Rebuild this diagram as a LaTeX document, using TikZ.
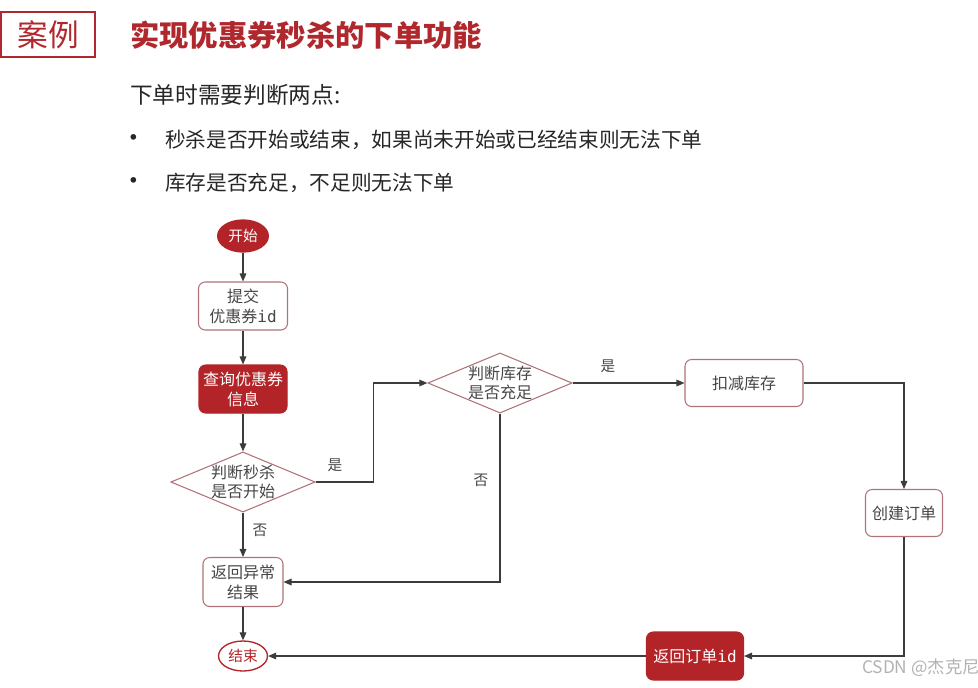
\documentclass[tikz,border=0pt]{standalone}
\usepackage{fontspec}
\setmainfont{Noto Sans CJK SC}
\setmonofont{DejaVu Sans Mono}
\usetikzlibrary{shapes.geometric,arrows.meta}
\definecolor{cred}{RGB}{178,36,40}
\definecolor{tred}{RGB}{176,40,45}
\definecolor{bord}{RGB}{175,115,120}
\definecolor{txt}{RGB}{70,70,70}
\definecolor{ln}{RGB}{60,60,60}
\begin{document}
\begin{tikzpicture}[x=0.75pt,y=-0.75pt,
 box/.style={draw=bord, line width=0.8pt, rounded corners=5pt, fill=white, text=txt,
   font=\fontsize{12}{15}\selectfont, align=center, inner sep=0pt},
 redbox/.style={box, fill=cred, draw=cred, text=white},
 dia/.style={draw=bord, line width=0.8pt, shape=diamond, aspect=2.4, inner sep=0pt,
   minimum width=104pt, minimum height=43pt, text=txt, align=center,
   font=\fontsize{12}{14}\selectfont},
 term/.style={shape=ellipse, inner sep=0pt, font=\fontsize{11}{13}\selectfont},
 arr/.style={draw=ln, line width=0.8pt, -{Triangle[length=6pt,width=5pt]}},
 lab/.style={text=txt, font=\fontsize{11}{13}\selectfont},
 bigtext/.style={anchor=west, inner sep=0pt, text=black!85},
 bul/.style={inner sep=0pt, text=black!85, font=\fontsize{20}{20}\selectfont}]
\useasboundingbox (0,0) rectangle (978,687);
% header
\node[draw=tred, line width=1pt, minimum width=70.5pt, minimum height=33.75pt, inner sep=0pt,
  text=tred, font=\fontsize{23}{26}\selectfont] (case) at (48,34.5) {案例};
\node[anchor=west, inner sep=0pt, text=tred, font=\fontsize{22}{26}\selectfont\bfseries] (title) at (130,35) {实现优惠券秒杀的下单功能};
\node[bigtext, font=\fontsize{17}{20}\selectfont] (intro) at (130,95) {下单时需要判断两点:};
\node[bul] (b1) at (134,141) {•};
\node[bigtext, font=\fontsize{15.5}{18}\selectfont] (t1) at (165,140) {秒杀是否开始或结束，如果尚未开始或已经结束则无法下单};
\node[bul] (b2) at (134,184) {•};
\node[bigtext, font=\fontsize{15.5}{18}\selectfont] (t2) at (165,183) {库存是否充足，不足则无法下单};
% flowchart nodes
\node[term, fill=cred, text=white, minimum width=39pt, minimum height=25pt] (start) at (243,236) {开始};
\node[box, minimum width=66.75pt, minimum height=36pt] (submit) at (243,306) {提交\\优惠券{\ttfamily id}};
\node[redbox, minimum width=66pt, minimum height=36pt] (query) at (243,389) {查询优惠券\\信息};
\node[dia] (d1) at (243,482) {判断秒杀\\是否开始};
\node[box, minimum width=60pt, minimum height=36.75pt] (err) at (243,582) {返回异常\\结果};
\node[term, draw=cred, line width=1pt, fill=white, text=cred, minimum width=36.75pt, minimum height=22.5pt] (end) at (243,656) {结束};
\node[dia] (d2) at (500,383) {判断库存\\是否充足};
\node[box, minimum width=88.5pt, minimum height=35.25pt] (deduct) at (744,383) {扣减库存};
\node[box, minimum width=57.75pt, minimum height=35.25pt] (create) at (904,513) {创建订单};
\node[redbox, minimum width=72.75pt, minimum height=36pt] (retid) at (695,656) {返回订单{\ttfamily id}};
% connectors
\draw[arr] (start) -- (submit);
\draw[arr] (submit) -- (query);
\draw[arr] (query) -- (d1);
\draw[arr] (d1.east) -- ++(58,0) |- (d2.west);
\draw[arr] (d1.south) -- (err.north);
\draw[arr] (d2.south) |- (err.east);
\draw[arr] (d2.east) -- (deduct.west);
\draw[arr] (deduct.east) -| (create.north);
\draw[arr] (create.south) |- (retid.east);
\draw[arr] (retid.west) -- (end.east);
\draw[arr] (err.south) -- (end.north);
% labels
\node[lab] (l1) at (335,465) {是};
\node[lab] (l2) at (260,530) {否};
\node[lab] (l3) at (481,480) {否};
\node[lab] (l4) at (608,366) {是};
% watermark
\node[anchor=east, inner sep=0pt, text=black!30, font=\fontsize{13}{15}\selectfont] (wm) at (980,668) {CSDN @杰克尼};
\end{tikzpicture}
\end{document}
